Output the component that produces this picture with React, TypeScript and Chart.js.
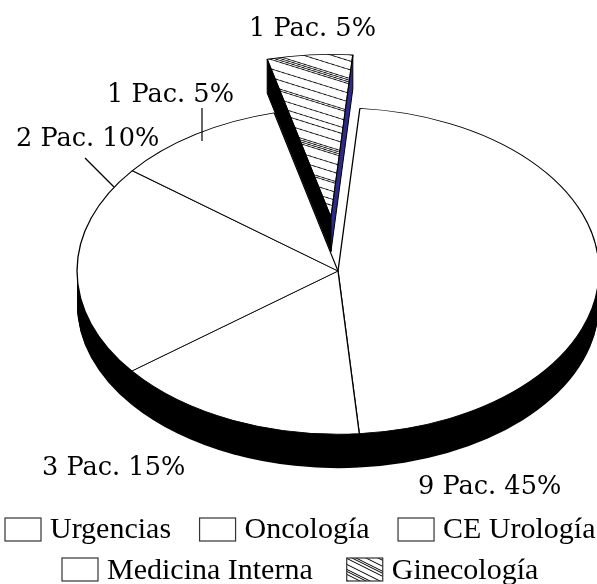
import React, { useEffect, useRef } from "react";
import { Chart, registerables } from "chart.js";

Chart.register(...registerables);

const categories = ["Urgencias", "Oncología", "CE Urología", "Medicina Interna", "Ginecología"];
const patients = [9, 3, 4, 2, 1];
const explode = [0, 0, 0, 0, 86];
const dataLabels = ["9 Pac. 45%", "3 Pac. 15%", "", "2 Pac. 10%", "1 Pac. 5%"];
const extraLabel = "1 Pac. 5%";

const SQUASH = 0.625;
const DEPTH = 34;
const RADIUS = 261;
const LABEL_FONT = '25.6px "DejaVu Serif"';
const LEGEND_FONT = '30px "Liberation Serif"';

function hatch(w: number, h: number, offsets: number[], lineWidth: number) {
  const c = document.createElement("canvas");
  c.width = w;
  c.height = h;
  const x = c.getContext("2d")!;
  x.fillStyle = "#fff";
  x.fillRect(0, 0, w, h);
  x.strokeStyle = "#000";
  x.lineWidth = lineWidth;
  for (const o of offsets) {
    for (const d of [0, -h]) {
      x.beginPath();
      x.moveTo(0, o + d);
      x.lineTo(w, o + h + d);
      x.stroke();
    }
  }
  return x.createPattern(c, "repeat")!;
}

export default function App() {
  const ref = useRef<HTMLCanvasElement>(null);
  useEffect(() => {
    document.body.style.margin = "0";
    const ctx = ref.current!.getContext("2d")!;
    const slicePattern = hatch(240, 120, [0, 14, 28, 31, 34, 37, 52, 66, 80, 83, 97, 110], 1.2);
    const swatchPattern = hatch(32, 16, [1, 7, 12, 14], 1);
    const fills: (string | CanvasPattern)[] = ["#fff", "#fff", "#fff", "#fff", slicePattern];

    const squash = (c: CanvasRenderingContext2D, cy: number) => {
      c.translate(0, cy);
      c.scale(1, SQUASH);
      c.translate(0, -cy);
    };

    const pie3d = {
      id: "pie3d",
      afterDatasetsUpdate(chart: any) {
        // Pull the exploded slice out along its mid-angle, keeping its radius.
        chart.getDatasetMeta(0).data.forEach((a: any, i: number) => {
          const mid = (a.startAngle + a.endAngle) / 2;
          a.x += Math.cos(mid) * explode[i];
          a.y += Math.sin(mid) * explode[i];
        });
      },
      beforeDatasetsDraw(chart: any) {
        const c = chart.ctx as CanvasRenderingContext2D;
        const arcs = chart.getDatasetMeta(0).data;
        c.save();
        c.fillStyle = "#000";
        arcs.forEach((a: any, i: number) => {
          if (explode[i]) return;
          const p = a.getProps(["x", "y", "startAngle", "endAngle", "outerRadius"]);
          for (let d = 1; d <= DEPTH; d++) {
            c.save();
            c.translate(0, d);
            squash(c, p.y);
            c.beginPath();
            c.moveTo(p.x, p.y);
            c.arc(p.x, p.y, p.outerRadius, p.startAngle, p.endAngle);
            c.closePath();
            c.fill();
            c.restore();
          }
        });
        c.restore();
        c.save();
        squash(c, arcs[0].y);
      },
      afterDatasetsDraw(chart: any) {
        const c = chart.ctx as CanvasRenderingContext2D;
        c.restore();
        const arcs = chart.getDatasetMeta(0).data;
        const cy = arcs[0].y;
        arcs.forEach((a: any, i: number) => {
          if (!explode[i]) return;
          const p = a.getProps(["x", "y", "startAngle", "endAngle", "outerRadius"]);
          const ax = p.x;
          const ay = cy + (p.y - cy) * SQUASH;
          const lx = ax + Math.cos(p.startAngle) * p.outerRadius;
          const ly = ay + Math.sin(p.startAngle) * p.outerRadius * SQUASH;
          const rx = ax + Math.cos(p.endAngle) * p.outerRadius;
          const ry = ay + Math.sin(p.endAngle) * p.outerRadius * SQUASH;
          const face = (x: number, y: number, fill: string) => {
            c.beginPath();
            c.moveTo(ax, ay);
            c.lineTo(x, y);
            c.lineTo(x, y + DEPTH);
            c.lineTo(ax, ay + DEPTH);
            c.closePath();
            c.fillStyle = fill;
            c.strokeStyle = "#000";
            c.lineWidth = 1;
            c.fill();
            c.stroke();
          };
          face(lx, ly, "#000");
          face(rx, ry, "#2e2a86");
        });
      },
      afterDraw(chart: any) {
        const c = chart.ctx as CanvasRenderingContext2D;
        c.save();
        c.fillStyle = "#000";
        c.strokeStyle = "#000";
        c.lineWidth = 1.2;
        c.textBaseline = "alphabetic";
        c.textAlign = "left";
        c.font = LABEL_FONT;
        const spots: [string, number, number][] = [
          [dataLabels[4], 249, 36],
          [extraLabel, 107, 102],
          [dataLabels[3], 16, 146],
          [dataLabels[1], 42, 475],
          [dataLabels[0], 418, 494],
        ];
        spots.forEach(([t, x, y]) => c.fillText(t, x, y));
        const leaders = [
          [202, 108, 202, 141],
          [85, 158, 114, 187],
        ];
        leaders.forEach(([a, b, d, e]) => {
          c.beginPath();
          c.moveTo(a, b);
          c.lineTo(d, e);
          c.stroke();
        });

        c.font = LEGEND_FONT;
        const rows: [number[], number, number, number, number][] = [
          [[0, 1, 2], 5, 541, 538, 28.5],
          [[3, 4], 62, 581, 579, 34],
        ];
        const SW = 36;
        const SH = 23;
        const GAP = 9;
        rows.forEach(([items, startX, bottom, baseline, sep]) => {
          let x = startX;
          items.forEach((i) => {
            c.fillStyle = i === 4 ? swatchPattern : "#fff";
            c.fillRect(x, bottom - SH, SW, SH);
            c.strokeStyle = "#333";
            c.lineWidth = 1.2;
            c.strokeRect(x, bottom - SH, SW, SH);
            c.fillStyle = "#000";
            c.fillText(categories[i], x + SW + GAP, baseline);
            x += SW + GAP + c.measureText(categories[i]).width + sep;
          });
        });
        c.restore();
      },
    };

    const chart = new Chart(ctx, {
      type: "pie",
      data: {
        labels: categories,
        datasets: [
          {
            data: patients,
            backgroundColor: fills,
            borderColor: "#000",
            borderWidth: 1.3,
            radius: RADIUS,
            rotation: 4.8,
            clip: false,
          } as any,
        ],
      },
      options: {
        animation: false,
        responsive: false,
        events: [],
        layout: { padding: { left: 79, bottom: 42 } },
        plugins: { legend: { display: false }, tooltip: { enabled: false }, title: { display: false } },
      },
      plugins: [pie3d],
    });
    return () => chart.destroy();
  }, []);
  return <canvas ref={ref} width={597} height={584} style={{ display: "block" }} />;
}
